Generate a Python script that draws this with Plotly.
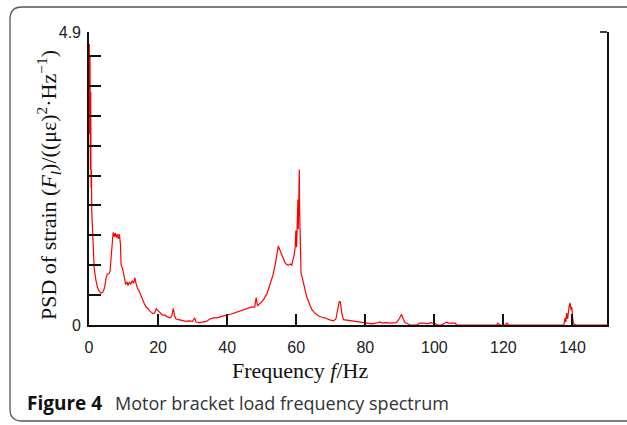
import plotly.graph_objects as go

# ---------------- data ----------------
freq_hz = [
    0.0, 0.1, 0.2, 0.3, 0.4, 0.5, 0.6, 0.7, 0.8, 1.0, 1.2, 1.5, 2.0, 2.5, 3.0, 3.5, 4.0, 4.5,
    5.0, 5.3, 5.8, 6.1, 6.5, 6.8, 7.0, 7.3, 7.6, 7.9, 8.2, 8.5, 8.8, 9.1, 9.3, 9.7, 10.0,
    10.3, 10.6, 11.0, 11.3, 11.7, 12.1, 12.5, 12.9, 13.3, 13.6, 14.0, 14.5, 15.0, 15.5, 16.0,
    16.5, 17.0, 17.5, 18.0, 18.5, 19.0, 19.5, 20.0, 20.5, 21.0, 21.5, 22.0, 22.5, 23.0, 23.5,
    24.0, 24.4, 24.8, 25.2, 26.0, 27.0, 28.0, 29.0, 30.0, 30.6, 31.0, 32.0, 33.0, 34.0, 35.0,
    36.0, 37.0, 38.0, 39.0, 40.0, 41.0, 42.0, 43.0, 44.0, 45.0, 46.0, 47.0, 48.0, 48.4, 48.8,
    49.5, 50.5, 51.5, 52.4, 53.2, 53.9, 54.4, 54.8, 55.3, 55.8, 56.3, 56.8, 57.3, 57.8, 58.3,
    58.7, 59.1, 59.4, 59.7, 59.9, 60.1, 60.3, 60.5, 60.6, 60.8, 60.9, 61.0, 61.2, 61.4, 61.8,
    62.1, 62.5, 63.0, 63.5, 64.0, 64.5, 65.2, 65.9, 66.5, 67.5, 68.3, 69.5, 70.8, 71.5, 72.0,
    72.5, 72.8, 73.2, 73.7, 75.0, 77.0, 79.5, 81.0, 82.0, 83.0, 84.3, 85.0, 86.0, 87.0, 88.0,
    89.0, 89.8, 90.5, 91.0, 91.5, 92.0, 93.0, 95.0, 95.8, 97.0, 98.0, 99.0, 100.0, 101.0,
    102.0, 103.0, 103.6, 104.0, 106.0, 106.5, 118.0, 118.4, 119.0, 120.5, 121.0, 121.5,
    137.5, 137.9, 138.1, 138.3, 138.6, 139.0, 139.3, 139.6, 139.8, 140.1, 140.3, 141.0, 150.0,
]
psd_strain = [
    4.1, 4.7, 3.2, 4.5, 2.6, 3.9, 2.3, 2.6, 1.9, 1.6, 1.1, 0.95, 0.75, 0.62, 0.56, 0.53, 0.55, 0.62,
    0.8, 0.85, 0.86, 0.9, 1.2, 1.45, 1.55, 1.48, 1.54, 1.46, 1.52, 1.44, 1.52, 1.35, 1.0, 0.95, 0.88,
    0.78, 0.68, 0.72, 0.66, 0.72, 0.68, 0.74, 0.7, 0.79, 0.7, 0.62, 0.57, 0.49, 0.44, 0.36,
    0.3, 0.28, 0.24, 0.22, 0.19, 0.2, 0.27, 0.24, 0.2, 0.18, 0.16, 0.17, 0.14, 0.13, 0.12,
    0.15, 0.28, 0.15, 0.1, 0.09, 0.08, 0.06, 0.07, 0.06, 0.12, 0.05, 0.04, 0.05, 0.06, 0.1,
    0.12, 0.12, 0.14, 0.15, 0.17, 0.18, 0.2, 0.23, 0.25, 0.27, 0.28, 0.3, 0.3, 0.46, 0.32,
    0.36, 0.42, 0.52, 0.66, 0.82, 1.0, 1.2, 1.32, 1.25, 1.18, 1.12, 1.04, 1.01, 1.0, 1.02,
    1.0, 1.1, 1.17, 1.3, 1.58, 1.3, 2.0, 2.1, 1.6, 2.45, 2.6, 1.9, 1.1, 0.87, 0.78,
    0.7, 0.6, 0.48, 0.4, 0.32, 0.26, 0.21, 0.18, 0.15, 0.13, 0.12, 0.09, 0.07, 0.1, 0.25,
    0.4, 0.38, 0.2, 0.09, 0.08, 0.07, 0.05, 0.04, 0.02, 0.03, 0.05, 0.03, 0.04, 0.03, 0.03,
    0.04, 0.1, 0.18, 0.1, 0.04, 0.03, 0.0, 0.0, 0.03, 0.03, 0.02, 0.04, 0.03, 0.0,
    0.0, 0.03, 0.05, 0.03, 0.03, 0.0, 0.0, 0.03, 0.0, 0.0, 0.03, 0.0,
    0.0, 0.12, 0.05, 0.2, 0.1, 0.3, 0.37, 0.25, 0.3, 0.1, 0.02, 0.0, 0.0,
]

x_ticks = [0, 20, 40, 60, 80, 100, 120, 140]
y_minor_ticks = [0, 0.5, 1.0, 1.5, 2.0, 2.5, 3.0, 3.5, 4.0, 4.5]
y_label_ticks = [0, 4.9]
x_range = [0, 150]
y_range = [0, 4.9]

x_title = "Frequency <i>f</i>/Hz"
y_title = "PSD of strain (<i>F<sub>l</sub></i>)/((με)<sup>2</sup>·Hz<sup>−1</sup>)"
caption_bold = "Figure 4"
caption_text = "Motor bracket load frequency spectrum"

# ---------------- layout helpers ----------------
W, H = 627, 425
L, R, T, B = 89, 20, 32, 100
PW, PH = W - L - R, H - T - B


def px(xp):
    return (xp - L) / PW


def py(yp):
    return (H - B - yp) / PH


fig = go.Figure()
fig.add_trace(go.Scatter(
    x=freq_hz, y=psd_strain, mode="lines",
    line=dict(color="#ff0000", width=1.2),
    hoverinfo="skip", showlegend=False,
))
# empty trace to anchor the label-only overlay axis
fig.add_trace(go.Scatter(x=[None], y=[None], yaxis="y2", showlegend=False, hoverinfo="skip"))

tick_font = dict(family="Liberation Sans, Arial, sans-serif", size=16, color="#222222")

fig.update_layout(
    width=W, height=H, autosize=False,
    margin=dict(l=L, r=R, t=T, b=B, pad=0),
    paper_bgcolor="white", plot_bgcolor="white",
    xaxis=dict(
        range=x_range, tickvals=x_ticks, ticks="inside", ticklen=11, tickwidth=1.5,
        tickcolor="#111111", showline=True, linecolor="#111111", linewidth=1.6,
        showgrid=False, zeroline=False, tickfont=tick_font, ticklabelstandoff=7,
        mirror=False,
    ),
    yaxis=dict(
        range=y_range, tickvals=y_minor_ticks, ticks="inside", ticklen=12, tickwidth=1.5,
        tickcolor="#111111", showline=True, linecolor="#111111", linewidth=1.6,
        showgrid=False, zeroline=False, showticklabels=False, mirror=True,
    ),
    yaxis2=dict(
        range=y_range, overlaying="y", side="left", anchor="x", tickvals=y_label_ticks,
        ticks="", showline=False, showgrid=False, zeroline=False, tickfont=tick_font,
        ticklabelstandoff=7,
    ),
)

# hook at top of right frame line
fig.add_shape(type="line", xref="paper", yref="paper",
              x0=px(600), x1=1.0, y0=1.0, y1=1.0,
              line=dict(color="#111111", width=1.6))

# rounded outer caption box (extends beyond right edge)
bx0, by0, by1, rr = 10, 7, 421, 12
x_l, x_rr, x_far = px(bx0), px(bx0 + rr), px(W + 20)
y_t, y_tr, y_b, y_br = py(by0), py(by0 + rr), py(by1), py(by1 - rr)
path = (f"M {x_far},{y_t} L {x_rr},{y_t} Q {x_l},{y_t} {x_l},{y_tr} "
        f"L {x_l},{y_br} Q {x_l},{y_b} {x_rr},{y_b} L {x_far},{y_b}")
fig.add_shape(type="path", xref="paper", yref="paper", path=path,
              line=dict(color="#555555", width=1.3))

serif = "Liberation Serif, Times New Roman, serif"
fig.add_annotation(text=x_title, xref="paper", yref="paper", x=px(300), y=py(370),
                   xanchor="center", yanchor="middle", showarrow=False,
                   font=dict(family=serif, size=22, color="#111111"))
fig.add_annotation(text=y_title, xref="paper", yref="paper", x=px(48), y=py(185),
                   xanchor="center", yanchor="middle", showarrow=False, textangle=-90,
                   font=dict(family=serif, size=22, color="#111111"))
fig.add_annotation(text=f"<b>{caption_bold}</b>", xref="paper", yref="paper", x=px(25), y=py(403),
                   xanchor="left", yanchor="middle", showarrow=False,
                   font=dict(family="Open Sans, sans-serif", size=19, color="#111111"))
fig.add_annotation(text=caption_text, xref="paper", yref="paper", x=px(113), y=py(403),
                   xanchor="left", yanchor="middle", showarrow=False,
                   font=dict(family="Open Sans, sans-serif", size=18, color="#333333"))

fig.write_html(
    "out.html",
    config={"displayModeBar": False},
    post_script="document.body.style.margin='0';document.body.style.padding='0';",
)
